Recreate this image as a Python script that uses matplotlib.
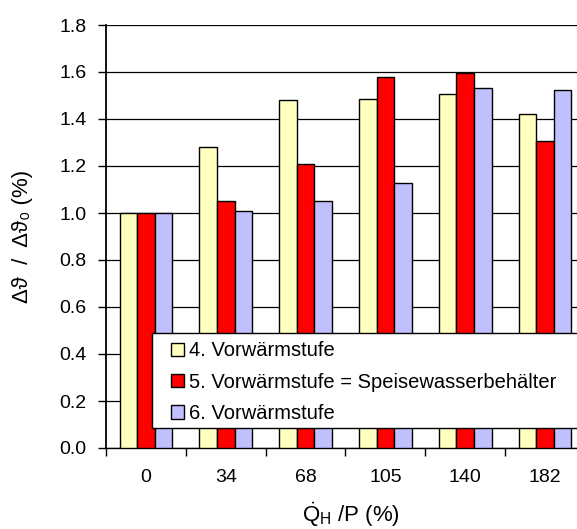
import numpy as np
import matplotlib
matplotlib.use("Agg")
import matplotlib.pyplot as plt
from matplotlib.patches import Rectangle
from matplotlib.ticker import FixedLocator, FormatStrFormatter

plt.rcParams["font.family"] = ["Liberation Sans", "DejaVu Sans"]
plt.rcParams["mathtext.fontset"] = "custom"
plt.rcParams["mathtext.rm"] = "Liberation Sans"
plt.rcParams["mathtext.it"] = "Liberation Sans"

# ======================
# DATEN
# ======================

kategorien = ["0", "34", "68", "105", "140", "182"]
stufe4 = [1.00, 1.28, 1.48, 1.484, 1.505, 1.423]
stufe5 = [1.00, 1.05, 1.207, 1.579, 1.596, 1.306]
stufe6 = [1.00, 1.01, 1.05, 1.129, 1.533, 1.523]

namen = ["4. Vorwärmstufe",
         "5. Vorwärmstufe = Speisewasserbehälter",
         "6. Vorwärmstufe"]
farben = ["#FFFFC0", "#FF0000", "#C0C0FF"]

FS_TICK = 14    # Achsenbeschriftung (pt)
FS_LEG = 14.5   # Legende
FS_LABEL = 16   # Achsentitel

# ======================
# FIGUR
# ======================

W, H = 577, 529
fig = plt.figure(figsize=(W / 100, H / 100), dpi=100)
fig.patch.set_facecolor("white")

# Plotbereich in Pixeln (links, oben, rechts, unten) – rechts über den Rand hinaus
x0, y0, x1, y1 = 106, 25, 585, 448
ax = fig.add_axes([x0 / W, 1 - y1 / H, (x1 - x0) / W, (y1 - y0) / H])

x = np.arange(len(kategorien))
b = 0.22
balken = []
for i, (werte, farbe) in enumerate(zip([stufe4, stufe5, stufe6], farben)):
    bc = ax.bar(x + (i - 1) * b, werte, width=b, color=farbe,
                edgecolor="black", linewidth=1.0, zorder=3)
    balken.append(bc)

ax.set_xlim(-0.5, len(kategorien) - 0.5)
ax.set_ylim(0, 1.8)
ax.set_yticks(np.arange(0, 1.81, 0.2))
ax.yaxis.set_major_formatter(FormatStrFormatter("%.1f"))
ax.set_xticks(x)
ax.set_xticklabels(kategorien)
ax.xaxis.set_minor_locator(FixedLocator(np.arange(-0.5, len(kategorien), 1.0)))

ax.tick_params(axis="x", which="major", length=0, pad=15, labelsize=FS_TICK)
ax.tick_params(axis="x", which="minor", length=6, width=1, direction="out")
ax.tick_params(axis="y", length=6, width=1, direction="out", pad=8, labelsize=FS_TICK)

ax.grid(axis="y", color="black", linewidth=0.9, zorder=0)
ax.set_axisbelow(True)
for s in ["top", "right"]:
    ax.spines[s].set_visible(False)
ax.spines["left"].set_linewidth(1.3)
ax.spines["bottom"].set_linewidth(1.0)

ax.set_ylabel("Δϑ  /  Δϑ₀ (%)", fontsize=FS_LABEL)
ax.yaxis.set_label_coords(-0.152, 0.5)
ax.set_xlabel(r"$\dot{\mathrm{Q}}_{\mathrm{H}}$ /P (%)", fontsize=FS_LABEL)
ax.xaxis.set_label_coords(0.511, -0.124)

# Legendenrahmen
fig.patches.append(Rectangle((152 / W, 1 - 428 / H), (600 - 152) / W, (428 - 333) / H,
                             transform=fig.transFigure, facecolor="white",
                             edgecolor="black", linewidth=1.0, zorder=5))
leg = fig.legend(balken, namen, loc="upper left",
                 bbox_to_anchor=(170.5 / W, 1 - 341.5 / H), bbox_transform=fig.transFigure,
                 frameon=False, fontsize=FS_LEG, borderpad=0, borderaxespad=0,
                 handlelength=0.68, handleheight=0.68, handletextpad=0.23,
                 labelspacing=0.6)
leg.set_zorder(6)

fig.savefig("out.png", dpi=100)
